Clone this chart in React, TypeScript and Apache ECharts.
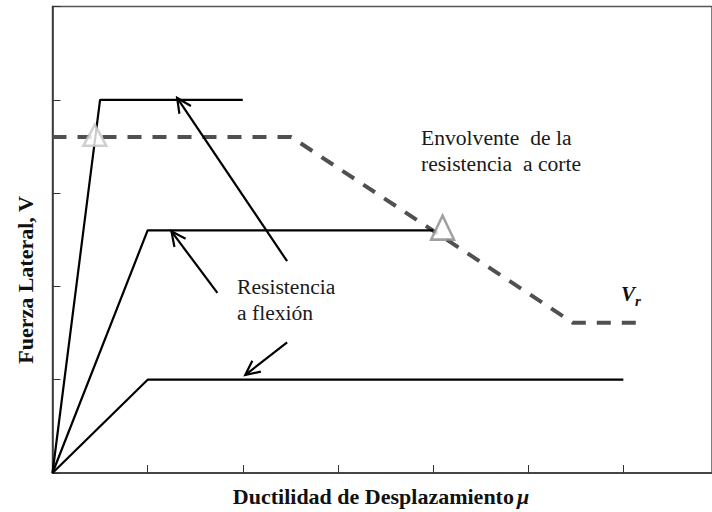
import React, { useEffect, useRef } from "react";
import * as echarts from "echarts";

// Data (x in ductility units, y in force units)
const flexureHigh: number[][] = [[0, 0], [0.5, 4.0], [2.0, 4.0]];
const flexureMid: number[][] = [[0, 0], [1.0, 2.6], [4.0, 2.6]];
const flexureLow: number[][] = [[0, 0], [1.0, 1.0], [6.0, 1.0]];
const shearEnvelope: number[][] = [[0, 3.6], [2.51, 3.6], [5.47, 1.61], [6.18, 1.61]];
const intersections: number[][] = [[0.445, 3.62], [4.1, 2.63]];
// arrows: [tailX, tailY, headX, headY]
const arrows: number[][] = [
  [2.466, 2.27, 1.31, 4.02],
  [1.733, 1.93, 1.25, 2.59],
  [2.466, 1.40, 2.026, 1.05],
];
const xTicks = [0, 1, 2, 3, 4, 5, 6];
const yTicks = [0, 1, 2, 3, 4, 5];

const SERIF = "Liberation Serif, DejaVu Serif, serif";

const txt = (text: string, x: number, y: number, extra: any = {}) => ({
  type: "text",
  x,
  y,
  style: {
    text,
    fontFamily: SERIF,
    fontSize: 21.6,
    fontWeight: "normal",
    fontStyle: "normal",
    fill: "#1a1a1a",
    verticalAlign: "middle",
    ...extra,
  },
});

export default function App() {
  const ref = useRef<HTMLDivElement>(null);
  useEffect(() => {
    if (!ref.current) return;
    const chart = echarts.init(ref.current, null, { renderer: "svg" });
    const option: any = {
      animation: false,
      backgroundColor: "#ffffff",
      textStyle: { fontFamily: SERIF },
      grid: {
        left: 52.5,
        top: 6.5,
        width: 662,
        height: 466.5,
        show: true,
        borderColor: "#555",
        borderWidth: 1.5,
        backgroundColor: "transparent",
      },
      xAxis: {
        type: "value",
        min: xTicks[0],
        max: 662 / 95.5,
        interval: 1,
        axisLine: { show: true, lineStyle: { color: "#333", width: 1.5 } },
        axisTick: { show: true, inside: true, length: 8, lineStyle: { color: "#333", width: 1 } },
        axisLabel: { show: false },
        splitLine: { show: false },
      },
      yAxis: {
        type: "value",
        min: yTicks[0],
        max: yTicks[yTicks.length - 1],
        interval: 1,
        axisLine: { show: true, lineStyle: { color: "#333", width: 1.5 } },
        axisTick: { show: true, inside: true, length: 8, lineStyle: { color: "#333", width: 1 } },
        axisLabel: { show: false },
        splitLine: { show: false },
      },
      series: [
        {
          type: "line",
          data: flexureHigh,
          symbol: "none",
          lineStyle: { color: "#000", width: 2.2 },
          z: 3,
        },
        {
          type: "line",
          data: flexureMid,
          symbol: "none",
          lineStyle: { color: "#000", width: 2.2 },
          z: 3,
        },
        {
          type: "line",
          data: flexureLow,
          symbol: "none",
          lineStyle: { color: "#000", width: 2.2 },
          z: 3,
        },
        {
          type: "line",
          data: shearEnvelope,
          symbol: "none",
          lineStyle: { color: "#505050", width: 4, type: [14, 11] },
          z: 2,
        },
        {
          type: "scatter",
          data: [intersections[0]],
          symbol: "triangle",
          symbolSize: [23, 21],
          itemStyle: { color: "#fff", borderColor: "#c4c4c4", borderWidth: 2.5 },
          z: 5,
        },
        {
          type: "scatter",
          data: [intersections[1]],
          symbol: "triangle",
          symbolSize: [23, 24],
          itemStyle: { color: "#fff", borderColor: "#888", borderWidth: 2.5 },
          z: 5,
        },
        {
          type: "custom",
          data: arrows,
          encode: { x: [0, 2], y: [1, 3] },
          z: 6,
          renderItem: (params: any, api: any) => {
            const p1 = api.coord([api.value(0), api.value(1)]);
            const p2 = api.coord([api.value(2), api.value(3)]);
            const ang = Math.atan2(p1[1] - p2[1], p1[0] - p2[0]);
            const L = 16;
            const a = 0.45;
            const w1 = [p2[0] + L * Math.cos(ang + a), p2[1] + L * Math.sin(ang + a)];
            const w2 = [p2[0] + L * Math.cos(ang - a), p2[1] + L * Math.sin(ang - a)];
            return {
              type: "group",
              children: [
                {
                  type: "line",
                  shape: { x1: p1[0], y1: p1[1], x2: p2[0], y2: p2[1] },
                  style: { stroke: "#000", lineWidth: 2.2 },
                },
                {
                  type: "polyline",
                  shape: { points: [w1, p2, w2] },
                  style: { stroke: "#000", lineWidth: 2.2, fill: null },
                },
              ],
            };
          },
        },
      ],
      graphic: [
        txt("Resistencia", 237, 287),
        txt("a flexión", 237, 313),
        txt("Envolvente  de la", 421, 138),
        txt("resistencia  a corte", 421, 164),
        txt("V", 621, 294, { fontStyle: "italic", fontWeight: "bold", fontSize: 21, fill: "#111" }),
        txt("r", 635, 301, { fontStyle: "italic", fontWeight: "bold", fontSize: 15, fill: "#111" }),
        {
          type: "text",
          x: 25,
          y: 280,
          rotation: Math.PI / 2,
          style: {
            text: "Fuerza Lateral, V",
            fontFamily: SERIF,
            fontWeight: "bold",
            fontSize: 22,
            fill: "#111",
            align: "center",
            verticalAlign: "middle",
          },
        },
        {
          type: "text",
          x: 381,
          y: 496,
          style: {
            text: "{b|Ductilidad de Desplazamiento}{m|μ}",
            align: "center",
            verticalAlign: "middle",
            rich: {
              b: { fontFamily: SERIF, fontWeight: "bold", fontSize: 22, fill: "#111" },
              m: { fontFamily: SERIF, fontStyle: "italic", fontWeight: "bold", fontSize: 22, fill: "#111", padding: [0, 0, 0, 3] },
            },
          },
        },
      ],
    };
    chart.setOption(option);
    return () => chart.dispose();
  }, []);
  return (
    <div
      ref={ref}
      style={{ position: "fixed", left: 0, top: 0, width: 712, height: 512, background: "#fff" }}
    />
  );
}
